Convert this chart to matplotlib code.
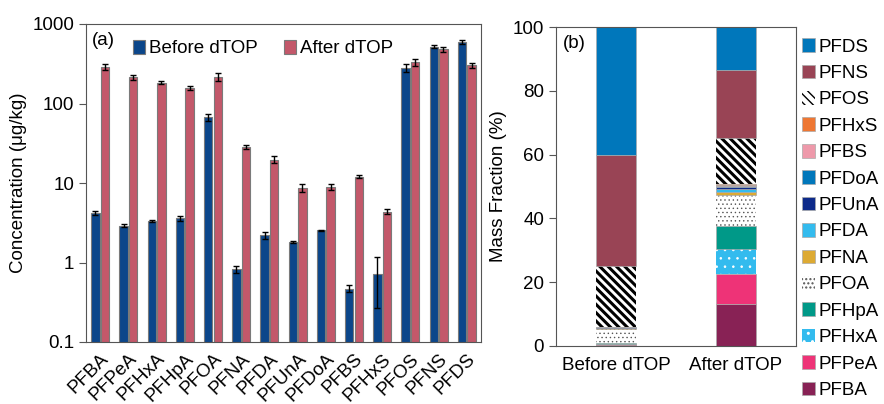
import numpy as np
import matplotlib
matplotlib.use("Agg")
import matplotlib.pyplot as plt
from matplotlib.ticker import FixedLocator, FixedFormatter, NullLocator

plt.rcParams["font.family"] = ["Liberation Sans", "DejaVu Sans"]

# panel (a): concentrations (ug/kg)
compounds = ["PFBA", "PFPeA", "PFHxA", "PFHpA", "PFOA", "PFNA", "PFDA",
             "PFUnA", "PFDoA", "PFBS", "PFHxS", "PFOS", "PFNS", "PFDS"]
before = [4.2, 2.9, 3.3, 3.6, 67, 0.82, 2.2, 1.8, 2.55, 0.47, 0.72, 282, 518, 589]
before_err = [0.2, 0.12, 0.1, 0.25, 6, 0.08, 0.2, 0.05, 0.05, 0.05, 0.45, 30, 25, 35]
after = [290, 214, 183, 158, 218, 28.4, 19.6, 8.6, 9.0, 12.0, 4.35, 330, 479, 302]
after_err = [25, 15, 8, 10, 25, 1.5, 2.0, 1.0, 0.8, 0.6, 0.3, 35, 40, 25]

# panel (b): mass fractions (%)
groups = ["Before dTOP", "After dTOP"]
frac_before = [0.3, 0.2, 0.2, 0.2, 4.5, 0.1, 0.15, 0.15, 0.2, 0.05, 0.05, 19.1, 34.8, 40.0]
frac_after = [13.1, 9.4, 8.0, 7.1, 9.6, 1.2, 0.9, 0.4, 0.4, 0.5, 0.2, 14.5, 21.3, 13.4]

fig = plt.figure(figsize=(8.84, 4.04), dpi=100)

# ---- panel (a)
ax = fig.add_axes([86 / 884, 1 - 342 / 404, 395 / 884, 318 / 404])
x = np.arange(len(compounds))
w = 0.3
ekw = dict(ecolor="black", elinewidth=1, capsize=2.5, capthick=1)
ax.bar(x - 0.17, before, w, yerr=before_err, color="#0B468A",
       edgecolor="#7a7a7a", linewidth=0.8, error_kw=ekw, label="Before dTOP")
ax.bar(x + 0.17, after, w, yerr=after_err, color="#C3586A",
       edgecolor="#7a7a7a", linewidth=0.8, error_kw=ekw, label="After dTOP")
ax.set_yscale("log")
ax.set_ylim(0.1, 1000)
ax.set_xlim(-0.5, 13.5)
ax.yaxis.set_major_locator(FixedLocator([0.1, 1, 10, 100, 1000]))
ax.yaxis.set_major_formatter(FixedFormatter(["0.1", "1", "10", "100", "1000"]))
ax.yaxis.set_minor_locator(NullLocator())
ax.set_xticks(x)
ax.set_xticklabels(compounds, rotation=45, ha="right", rotation_mode="anchor",
                   fontsize=13.5)
ax.tick_params(axis="x", length=0, pad=6)
ax.tick_params(axis="y", length=5, labelsize=13.5, color="#555555")
for s in ax.spines.values():
    s.set_color("#555555")
ax.set_ylabel("Concentration (\u03bcg/kg)", fontsize=13.5)
ax.text(0.015, 0.975, "(a)", transform=ax.transAxes, fontsize=13.5,
        va="top", ha="left")
ax.legend(loc="upper left", bbox_to_anchor=(0.09, 0.985), ncol=2, frameon=False,
          fontsize=13.5, handlelength=0.65, handleheight=0.75, handletextpad=0.2,
          columnspacing=1.4, borderaxespad=0.2)

# ---- panel (b)
bx = fig.add_axes([556 / 884, 1 - 346 / 404, 240 / 884, 319 / 404])
colors = ["#882255", "#EE3377", "#33BBEE", "#009988", "white", "#DDAA33",
          "#33BBEE", "#0D2A8A", "#0077BB", "#EE99AA", "#EE7733", "white",
          "#994455", "#0077BB"]
hatches = [None, None, "..", None, "....", None, None, None, None, None, None,
           "\\\\\\\\", None, None]
hatch_edges = [None, None, "white", None, "#555555", None, None, None, None,
               None, None, "black", None, None]
hatch_lw = [1, 1, 0.6, 1, 0.5, 1, 1, 1, 1, 1, 1, 2.2, 1, 1]
bx_pos = np.arange(len(groups))
bottom = np.zeros(len(groups))
handles = []
for i, name in enumerate(compounds):
    vals = np.array([frac_before[i], frac_after[i]])
    with plt.rc_context({"hatch.linewidth": hatch_lw[i]}):
        if hatches[i] is None:
            h = bx.bar(bx_pos, vals, 0.33, bottom=bottom, color=colors[i],
                       edgecolor="#aaaaaa", linewidth=0.5, label=name)
        else:
            h = bx.bar(bx_pos, vals, 0.33, bottom=bottom, color=colors[i],
                       edgecolor=hatch_edges[i], hatch=hatches[i], linewidth=0,
                       label=name)
    handles.append(h)
    bottom = bottom + vals
bx.set_xlim(-0.5, 1.5)
bx.set_ylim(0, 100)
bx.set_yticks([0, 20, 40, 60, 80, 100])
bx.set_xticks(bx_pos)
bx.set_xticklabels(groups, fontsize=13.5)
bx.tick_params(axis="x", length=0, pad=8)
bx.tick_params(axis="y", length=5, labelsize=13.5, color="#555555")
for s in bx.spines.values():
    s.set_color("#555555")
bx.set_ylabel("Mass Fraction (%)", fontsize=13.5)
bx.text(0.03, 0.975, "(b)", transform=bx.transAxes, fontsize=13.5,
        va="top", ha="left")
bx.legend(handles[::-1], compounds[::-1], loc="upper left",
          bbox_to_anchor=(0.98, 1.0), frameon=False, fontsize=13.5,
          handlelength=0.65, handleheight=0.75, handletextpad=0.2,
          labelspacing=0.48, borderaxespad=0.2)

fig.savefig("out.png", dpi=100)
